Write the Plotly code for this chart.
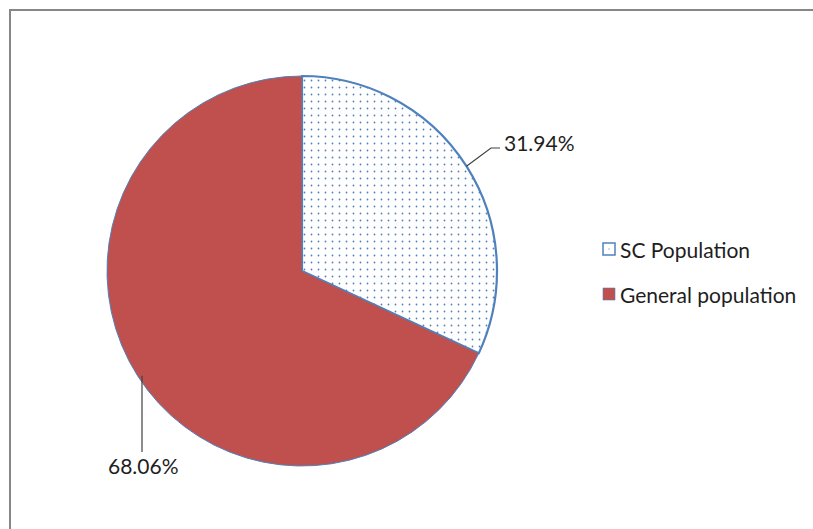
import math
import plotly.graph_objects as go

# ---- data ----
labels = ["SC Population", "General population"]
values = [31.94, 68.06]
label_text = ["31.94%", "68.06%"]
slice_colors = ["#FFFFFF", "#C0504D"]
line_colors = ["#4F81BD", "#4F81BD"]
pattern_shapes = [".", ""]

# ---- layout constants (pixels) ----
W, H = 813, 529
cx, cy, R = 302, 271, 195
FONT = "Lato, 'Noto Sans', sans-serif"
TEXT_COLOR = "#1e1e1e"


def px(x):
    return x / W


def py(y):
    return 1 - y / H


fig = go.Figure(
    go.Pie(
        labels=labels,
        values=values,
        sort=False,
        direction="clockwise",
        rotation=0,
        textinfo="none",
        hoverinfo="label+percent",
        showlegend=False,
        marker=dict(
            colors=slice_colors,
            line=dict(color=line_colors, width=[2.2, 1]),
            pattern=dict(shape=pattern_shapes, fgcolor="#4F81BD", size=7, solidity=0.05),
        ),
        domain=dict(x=[px(cx - R), px(cx + R)], y=[py(cy + R), py(cy - R)]),
    )
)

# leader-line start points at the middle of each slice
total = sum(values)
cum = 0
starts = []
for v in values:
    mid = (cum + v / 2) / total * 2 * math.pi
    starts.append((cx + R * math.sin(mid), cy - R * math.cos(mid)))
    cum += v

shapes = []
annotations = []

# chart-area border (only the left and top edges are inside the picture)
shapes.append(dict(type="path", xref="paper", yref="paper",
                   path=f"M {px(10)},0 L {px(10)},{py(10)} L 1,{py(10)}",
                   line=dict(color="#878787", width=2)))

# label 1 (SC) - bent leader line
s = starts[0]
shapes.append(dict(type="path", xref="paper", yref="paper",
                   path=f"M {px(s[0])},{py(s[1])} L {px(491)},{py(148)} L {px(500)},{py(148)}",
                   line=dict(color="#404040", width=1.2)))
annotations.append(dict(x=px(502), y=py(142), xref="paper", yref="paper",
                        text=label_text[0], showarrow=False, xanchor="left", yanchor="middle",
                        font=dict(family=FONT, size=21, color=TEXT_COLOR)))

# label 2 (General) - vertical leader line
s = starts[1]
shapes.append(dict(type="path", xref="paper", yref="paper",
                   path=f"M {px(142)},{py(s[1])} L {px(142)},{py(452)}",
                   line=dict(color="#404040", width=1.2)))
annotations.append(dict(x=px(143), y=py(465), xref="paper", yref="paper",
                        text=label_text[1], showarrow=False, xanchor="center", yanchor="middle",
                        font=dict(family=FONT, size=21, color=TEXT_COLOR)))

# legend
legend_y = [249, 294]
for i, name in enumerate(labels):
    y = legend_y[i]
    shapes.append(dict(type="rect", xref="paper", yref="paper",
                       x0=px(603), x1=px(615), y0=py(y - 6), y1=py(y + 6),
                       fillcolor=slice_colors[i],
                       line=dict(color=line_colors[i], width=1.5 if i == 0 else 0.6)))
    annotations.append(dict(x=px(618), y=py(y), xref="paper", yref="paper",
                            text=name, showarrow=False, xanchor="left", yanchor="middle",
                            font=dict(family=FONT, size=21, color=TEXT_COLOR)))
# small dot inside SC legend square
shapes.append(dict(type="rect", xref="paper", yref="paper",
                   x0=px(608.5), x1=px(609.5), y0=py(legend_y[0] - 0.5), y1=py(legend_y[0] + 0.5),
                   fillcolor="#4F81BD", line=dict(width=0)))

fig.update_layout(
    width=W, height=H,
    margin=dict(l=0, r=0, t=0, b=0),
    paper_bgcolor="white",
    plot_bgcolor="white",
    shapes=shapes,
    annotations=annotations,
    showlegend=False,
)

fig.write_html(
    "out.html",
    config={"displayModeBar": False},
    post_script="document.body.style.margin='0';document.body.style.overflow='hidden';",
)
